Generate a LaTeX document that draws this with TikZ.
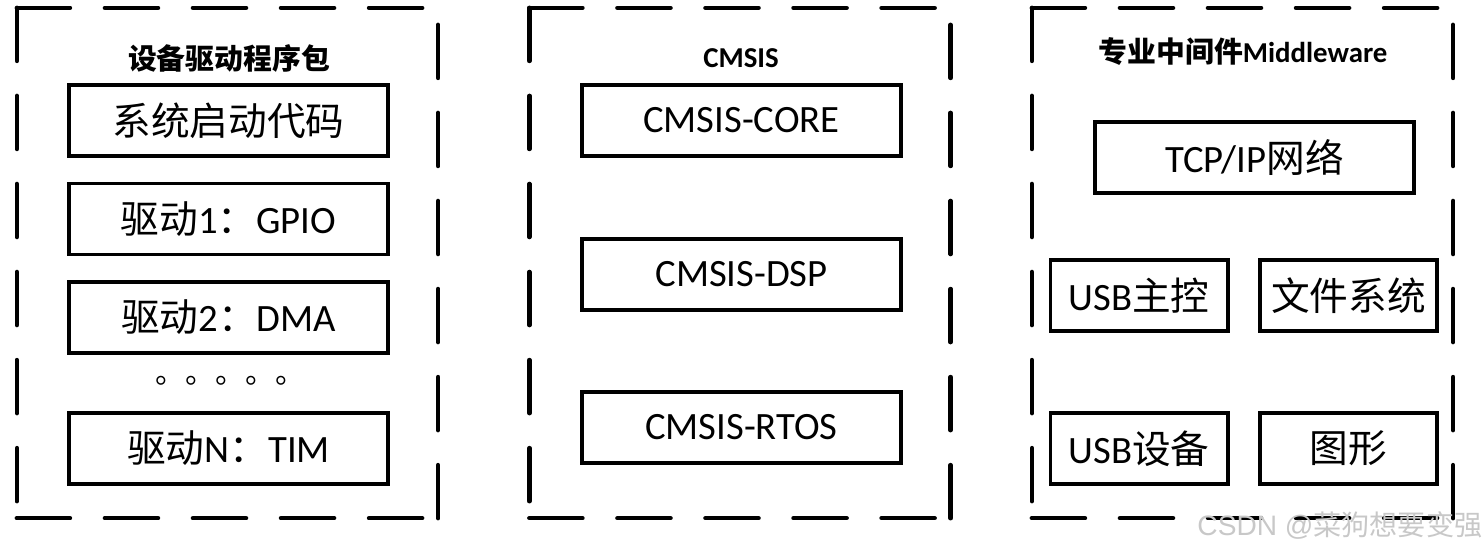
\documentclass[tikz,border=0pt]{standalone}
\usepackage{fontspec}
\setmainfont{Carlito}
\newfontfamily\cjk{Noto Sans CJK SC}
\newfontfamily\wmfont{Liberation Sans}
\usetikzlibrary{positioning}
\definecolor{ink}{HTML}{000000}
\definecolor{mark}{HTML}{C8C8C8}

\begin{document}
\begin{tikzpicture}[x=0.01cm, y=-0.01cm, text=ink,
  panel/.style={minimum width=4.21cm, minimum height=5.10cm, inner sep=0pt, outer sep=0pt},
  panelline/.style={draw=ink, line width=1.3pt, line cap=round, dash pattern=on 0.53cm off 0.35cm},
  boxtitle/.style={font=\fontsize{8.2}{10}\selectfont\bfseries},
  unit/.style={draw=ink, line width=1.1pt, minimum width=3.19cm, minimum height=0.71cm, inner sep=0pt, font=\fontsize{11}{13}\selectfont},
  small/.style={unit, minimum width=1.77cm}]
  \useasboundingbox (0,0) rectangle (1483,550);

  \node[panel] (drv) at (227.5,263) {};
  \node[panel] (cmsis) at (740,263) {};
  \node[panel] (mid) at (1242.5,263) {};
  \foreach \p in {drv,cmsis,mid}{
    \draw[panelline] (\p.north west) -- (\p.north east);
    \draw[panelline] (\p.north west) -- (\p.south west);
    \draw[panelline] (\p.south west) -- (\p.south east);
    \draw[panelline] (\p.south east) -- (\p.north east);
  }

  \node[boxtitle] (drvtitle) at (229,58) {\cjk 设备驱动程序包};
  \node[unit] (sysboot) at (228.5,120.5) {\cjk 系统启动代码};
  \node[unit] (gpio) at (228.5,219) {{\cjk 驱动}1{\cjk ：}GPIO};
  \node[unit] (dma) at (228.5,317.5) {{\cjk 驱动}2{\cjk ：}DMA};
  \node[anchor=base west, inner sep=0pt, font=\fontsize{8.5}{10}\selectfont\cjk] (more) at (155,383) {。。。。。};
  \node[unit] (tim) at (228.5,448.5) {{\cjk 驱动}N{\cjk ：}TIM};

  \node[boxtitle] (cmsistitle) at (741,58) {CMSIS};
  \node[unit] (core) at (741.5,120.5) {CMSIS-CORE};
  \node[unit] (dsp) at (741.5,274.5) {CMSIS-DSP};
  \node[unit] (rtos) at (741.5,427.5) {CMSIS-RTOS};

  \node[boxtitle] (midtitle) at (1243,52) {{\cjk 专业中间件}Middleware};
  \node[unit] (tcpip) at (1254.5,157.5) {TCP/IP{\cjk 网络}};
  \node[small] (usbhost) at (1139,295.5) {USB{\cjk 主控}};
  \node[small] (fs) at (1348.5,295.5) {\cjk 文件系统};
  \node[small] (usbdev) at (1139,448.5) {USB{\cjk 设备}};
  \node[small] (gfx) at (1348.5,448.5) {\cjk 图形};

  \node[anchor=east, inner sep=0pt, text=mark, font=\fontsize{8}{10}\selectfont] (wm) at (1483,525) {{\wmfont CSDN @}{\cjk 菜狗想要变强}};
\end{tikzpicture}
\end{document}
